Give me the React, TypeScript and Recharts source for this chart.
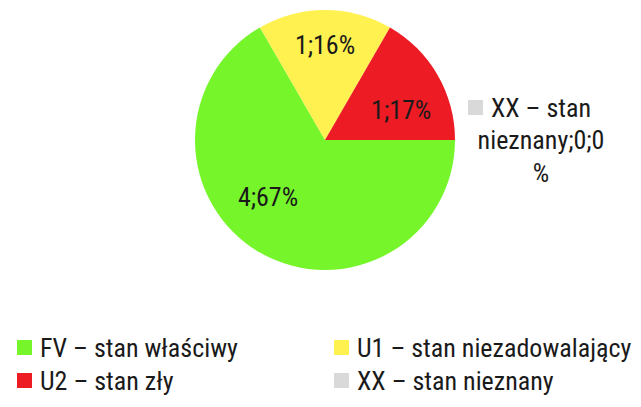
import React from 'react';
import { PieChart, Pie, Cell, Legend } from 'recharts';

const categories = ['FV – stan właściwy', 'U1 – stan niezadowalający', 'U2 – stan zły', 'XX – stan nieznany'];
const values = [4, 1, 1, 0];
const percentLabels = ['67%', '16%', '17%', '0 %'];
const colors = ['#76F52B', '#FFF150', '#ED1C24', '#D9D9D9'];

const data = categories.map((name, i) => ({ name, value: values[i], pct: percentLabels[i], color: colors[i] }));

const FONT = '"Liberation Sans Narrow", "Roboto Condensed", Roboto, sans-serif';
const FONT_SIZE = 26;
const TEXT_COLOR = '#1a1a1a';

// label placement tweaks (angle shift in degrees, radius fraction)
const LABEL_TWEAK = [
  { shift: -15, frac: 0.62 },
  { shift: 0, frac: 0.73 },
  { shift: -8.5, frac: 0.63 },
];

const RAD = Math.PI / 180;

function wrap(text: string, maxChars: number): string[] {
  const words = text.split(' ');
  const lines: string[] = [];
  let cur = '';
  for (const w of words) {
    const next = cur ? cur + ' ' + w : w;
    if (next.length > maxChars && cur) {
      lines.push(cur);
      cur = w;
    } else {
      cur = next;
    }
  }
  if (cur) lines.push(cur);
  return lines;
}

const renderLabel = (props: any) => {
  const { cx, cy, midAngle, outerRadius, index } = props;
  const entry = data[index];
  if (entry.value === 0) {
    const lines = wrap(`${entry.name};${entry.value};${entry.pct}`, 12);
    const lh = 32.5;
    const tx = cx + outerRadius * Math.cos(-midAngle * RAD) + 86;
    const ty0 = cy - ((lines.length - 1) * lh) / 2;
    return (
      <g key={`lbl-${index}`}>
        <rect x={tx - 73} y={ty0 - 7.5} width={15} height={15} fill={entry.color} />
        <text
          x={tx}
          y={ty0}
          textAnchor="middle"
          dominantBaseline="central"
          fontFamily={FONT}
          fontSize={FONT_SIZE}
          fill={TEXT_COLOR}
        >
          {lines.map((l, i) => (
            <tspan key={i} x={tx} y={ty0 + i * lh}>
              {l}
            </tspan>
          ))}
        </text>
      </g>
    );
  }
  const tw = LABEL_TWEAK[index] || { shift: 0, frac: 0.65 };
  const ang = midAngle + tw.shift;
  const r = outerRadius * tw.frac;
  const x = cx + r * Math.cos(-ang * RAD);
  const y = cy + r * Math.sin(-ang * RAD);
  return (
    <text
      key={`lbl-${index}`}
      x={x}
      y={y}
      textAnchor="middle"
      dominantBaseline="central"
      fontFamily={FONT}
      fontSize={FONT_SIZE}
      fill={TEXT_COLOR}
    >
      {`${entry.value};${entry.pct}`}
    </text>
  );
};

const renderLegend = (props: any) => {
  const payload = props.payload || [];
  return (
    <div
      style={{
        display: 'grid',
        gridTemplateColumns: '317px 307px',
        rowGap: 0,
        fontFamily: FONT,
        fontSize: FONT_SIZE,
        color: TEXT_COLOR,
      }}
    >
      {payload.map((p: any, i: number) => (
        <div key={i} style={{ display: 'flex', alignItems: 'center', height: 33, whiteSpace: 'nowrap' }}>
          <span style={{ display: 'inline-block', width: 15, height: 15, background: p.color, marginRight: 8 }} />
          <span>{p.value}</span>
        </div>
      ))}
    </div>
  );
};

export default function App() {
  return (
    <div style={{ position: 'absolute', left: 0, top: 0, width: 641, height: 407, background: '#fff' }}>
      <PieChart width={641} height={407} margin={{ top: 0, right: 0, bottom: 0, left: 0 }}>
        <Pie
          data={data}
          dataKey="value"
          nameKey="name"
          cx={325}
          cy={140}
          outerRadius={130}
          startAngle={0}
          endAngle={-360}
          stroke="none"
          labelLine={false}
          label={renderLabel}
          isAnimationActive={false}
        >
          {data.map((d, i) => (
            <Cell key={i} fill={d.color} />
          ))}
        </Pie>
        <Legend
          content={renderLegend}
          wrapperStyle={{ position: 'absolute', left: 17, top: 331, width: 624, height: 66 }}
        />
      </PieChart>
    </div>
  );
}
